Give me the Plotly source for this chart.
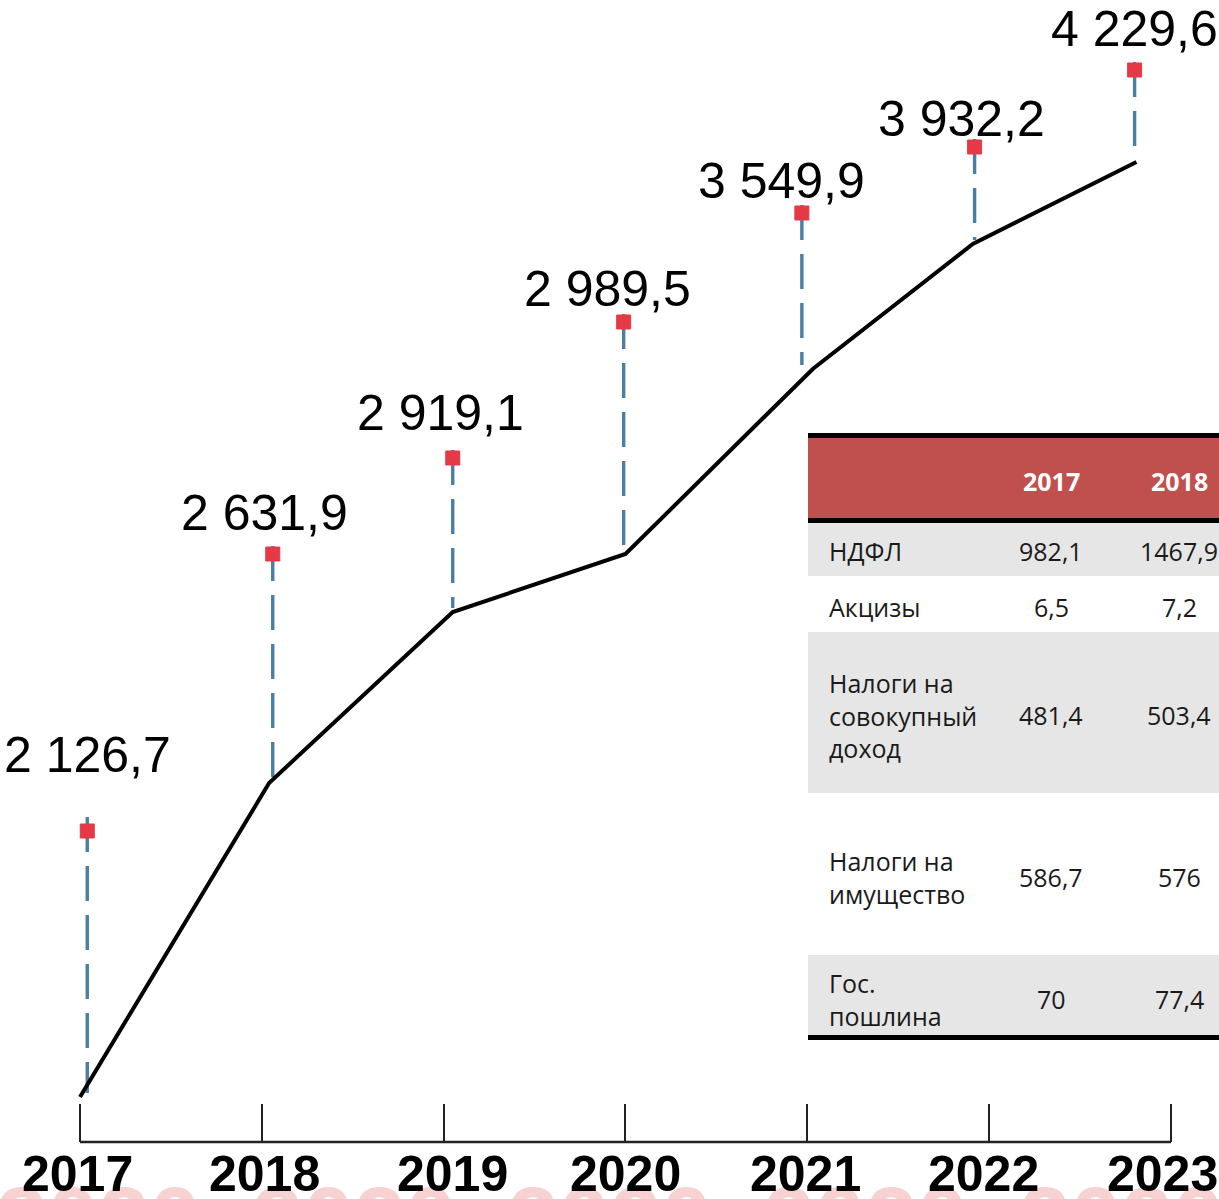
import plotly.graph_objects as go

# ---------------- data ----------------
years = [2017, 2018, 2019, 2020, 2021, 2022, 2023]
values = [2126.7, 2631.9, 2919.1, 2989.5, 3549.9, 3932.2, 4229.6]

# decorative trend line (x in years, level in picture units)
line_x = [2017.00, 2018.04, 2019.05, 2020.00, 2021.03, 2021.91, 2022.81]
line_level = [45, 359, 530, 588, 773, 898, 980]

# red value markers (x in years, level in picture units)
marker_x = [2017.04, 2018.06, 2019.05, 2019.99, 2020.97, 2021.92, 2022.80]
marker_level = [311, 588, 684, 820, 929, 995, 1072]

# table
table_years = ["2017", "2018"]
table_rows = ["НДФЛ", "Акцизы", "Налоги на<br>совокупный<br>доход",
              "Налоги на<br>имущество", "Гос.<br>пошлина"]
vals_2017 = [982.1, 6.5, 481.4, 586.7, 70]
vals_2018 = [1467.9, 7.2, 503.4, 576, 77.4]

watermark_text = "2020  2020  2020  2020  2020"

# ---------------- helpers ----------------
W, H = 1219, 1199
PLOT_BOTTOM = 1142  # pixel of the x axis


def lev(py):
    return PLOT_BOTTOM - py


def px(x):
    return x / W


def pyp(py):
    """pixel row -> paper y"""
    return (PLOT_BOTTOM - py) / PLOT_BOTTOM


def fmt_big(v):
    return f"{v:,.1f}".replace(",", " ").replace(".", ",")


def fmt_small(v):
    if float(v).is_integer():
        return str(int(v))
    return f"{v:.1f}".replace(".", ",")


fig = go.Figure()

# dashed drops from markers to trend line
dx, dy = [], []
for i, (mx, ml, ll) in enumerate(zip(marker_x, marker_level, line_level)):
    dx += [mx, mx, None]
    dy += [ml + (14 if i == 0 else 8), ll + 4, None]
fig.add_trace(go.Scatter(x=dx, y=dy, mode="lines",
                         line=dict(color="#4a7ea4", width=3.4, dash="35px,14px"),
                         hoverinfo="skip", showlegend=False))

# trend line
fig.add_trace(go.Scatter(x=line_x, y=line_level, mode="lines",
                         line=dict(color="black", width=4),
                         showlegend=False))

# markers
fig.add_trace(go.Scatter(x=marker_x, y=marker_level, mode="markers",
                         marker=dict(symbol="square", size=14, color="#e63946",
                                     line=dict(color="#e63946", width=1)),
                         showlegend=False))

# watermark (faint pink, cut off at bottom) - drawn before the year labels
fig.add_annotation(x=0.5, y=pyp(1167), xref="paper", yref="paper", text=watermark_text,
                   showarrow=False, xanchor="center", yanchor="top",
                   font=dict(family="Liberation Sans, Arial", size=92,
                             color="#f8d2d2", weight="bold"))

# year labels under the axis
year_xshift = [-3, 3, 9, 0, -2, -6, -8]
for yr, xs in zip(years, year_xshift):
    fig.add_annotation(x=yr, y=0, xref="x", yref="paper", text=str(yr),
                       showarrow=False, xanchor="center", yanchor="top",
                       xshift=xs, yshift=-2,
                       font=dict(family="Liberation Sans, Arial", size=50,
                                 color="black", weight="bold"))

# value labels
label_xshift = [0, -8, -12, -16, -20, -13, 0]
label_yshift = [76, 41, 45, 33, 32, 28, 41]
for mx, ml, v, xs, ys in zip(marker_x, marker_level, values, label_xshift, label_yshift):
    fig.add_annotation(x=mx, y=ml, xref="x", yref="y", text=fmt_big(v),
                       showarrow=False, xshift=xs, yshift=ys,
                       font=dict(family="Liberation Sans, Arial", size=50, color="black"))

# baseline of x axis (from 2017 to 2023)
fig.add_shape(type="line", xref="x", yref="paper", x0=years[0], x1=years[-1],
              y0=0, y1=0, line=dict(color="#222222", width=2.5))

# ---------------- table ----------------
TL, TR = 808, 1219
shapes = []
shapes.append(dict(type="rect", xref="paper", yref="y", x0=px(TL), x1=px(TR),
                   y0=lev(438), y1=lev(518), fillcolor="#c0504d", line_width=0, layer="below"))
row_top = [523, 576, 632, 793, 955]
row_bot = [576, 632, 793, 955, 1035]
for i, (t, b) in enumerate(zip(row_top, row_bot)):
    if i % 2 == 0:
        shapes.append(dict(type="rect", xref="paper", yref="y", x0=px(TL), x1=px(TR),
                           y0=lev(b), y1=lev(t), fillcolor="#e6e6e6", line_width=0,
                           layer="below"))
for t, b in [(433, 438), (518, 523), (1035, 1040)]:
    shapes.append(dict(type="rect", xref="paper", yref="y", x0=px(TL), x1=px(TR),
                       y0=lev(b), y1=lev(t), fillcolor="black", line_width=0))
for s in shapes:
    fig.add_shape(**s)

col_x = [1051, 1179]
tfont = "Open Sans, Noto Sans, sans-serif"
for cx, yr in zip(col_x, table_years):
    fig.add_annotation(x=px(cx), y=lev(481), xref="paper", yref="y", text=yr,
                       showarrow=False, xanchor="center", yanchor="middle",
                       font=dict(family=tfont, size=25, color="white", weight="bold"))
row_center = [551, 607, 715, 877, 999]
for rc, name, v17, v18 in zip(row_center, table_rows, vals_2017, vals_2018):
    fig.add_annotation(x=px(827), y=lev(rc), xref="paper", yref="y", text=name,
                       showarrow=False, xanchor="left", yanchor="middle", align="left",
                       font=dict(family=tfont, size=25, color="#1a1a1a"))
    for cx, v in zip(col_x, [v17, v18]):
        fig.add_annotation(x=px(cx), y=lev(rc), xref="paper", yref="y", text=fmt_small(v),
                           showarrow=False, xanchor="center", yanchor="middle",
                           font=dict(family=tfont, size=25, color="#1a1a1a"))

# ---------------- layout ----------------
x_per_year = 181.83
fig.update_layout(
    width=W, height=H,
    margin=dict(l=0, r=0, t=0, b=H - PLOT_BOTTOM, autoexpand=False),
    paper_bgcolor="white", plot_bgcolor="white",
    showlegend=False,
    xaxis=dict(range=[2017 - 80 / x_per_year, 2017 + (W - 80) / x_per_year],
               tickvals=years, showticklabels=False, automargin=False,
               ticks="inside", ticklen=38, tickwidth=2, tickcolor="#222222",
               showline=False, showgrid=False, zeroline=False, fixedrange=True),
    yaxis=dict(range=[0, PLOT_BOTTOM], visible=False, showgrid=False, automargin=False,
               zeroline=False, fixedrange=True),
)

fig.write_html("out.html", config={"displayModeBar": False},
               post_script="document.body.style.margin='0';"
                           "document.documentElement.style.overflow='hidden';")
